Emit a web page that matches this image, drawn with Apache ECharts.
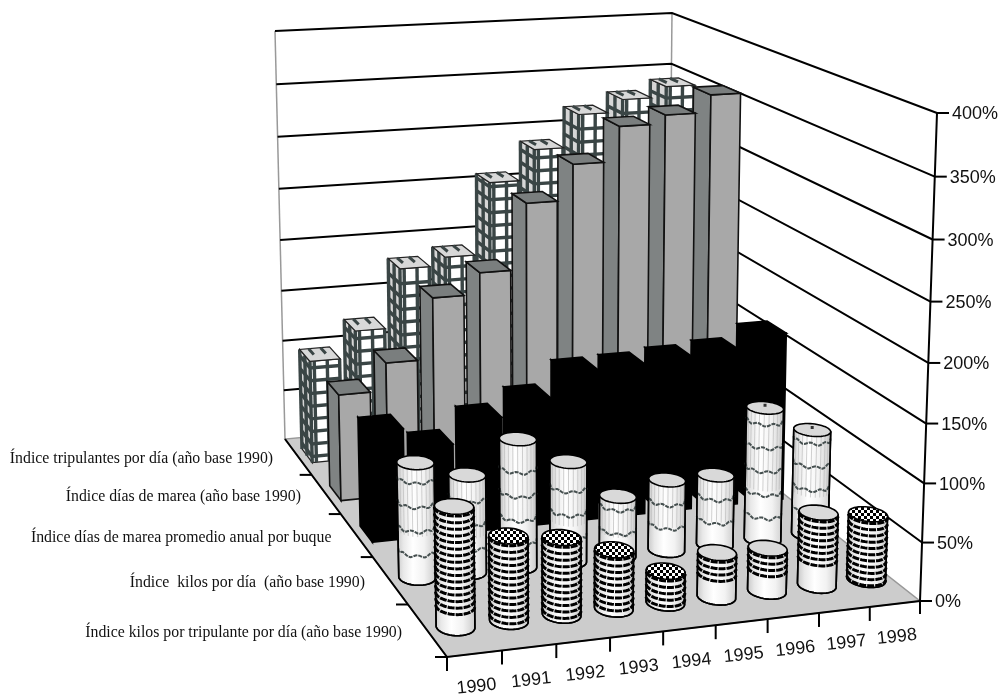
<!DOCTYPE html>
<html>
<head>
<meta charset="utf-8">
<style>html,body{margin:0;padding:0;background:#fff}#chart{width:1000px;height:695px}</style>
<script src="https://cdn.jsdelivr.net/npm/echarts@6/dist/echarts.min.js"></script>
</head>
<body>
<div id="chart"></div>
<script>
// Fishing-fleet indices, 1990 = 100%
const years = ['1990','1991','1992','1993','1994','1995','1996','1997','1998'];
const percentTicks = [0,50,100,150,200,250,300,350,400];
const rowNames = [
  'Índice kilos por tripulante por día (año base 1990)',
  'Índice  kilos por día  (año base 1990)',
  'Índice días de marea promedio anual por buque',
  'Índice días de marea (año base 1990)',
  'Índice tripulantes por día (año base 1990)'
];
const kilosPorTripulante = [100,71,65,50,27,38,37,63,57];
const kilosPorDia        = [100,85,112,88,53,63,63,119,95];
const mareaPorBuque      = [100,82,102,116,137,138,141,144,156];
const diasDeMarea        = [100,126,183,203,264,297,329,337,353];
const tripulantesPorDia  = [100,126,183,191,260,289,320,332,342];

// Surface treatment of the individual cylinders
const checkerTop = [0,1,1,1,1,0,0,0,1];
const bandCover  = [0.88,1,1,1,1,0.6,0.55,0.7,1];
const topDot     = [0,0,0,0,0,0,0,1,1];

// Perspective of the 3D box: floor and ceiling quads (front-left, front-right, back-right, back-left)
const floorQuad = [[447,657],[920,601],[668,403],[285,439]];
const ceilQuad  = [[440,143],[937,113],[672,13],[275,31]];
const PCT_MAX = 400;

function homography(q){
  const [x0,y0]=q[0],[x1,y1]=q[1],[x2,y2]=q[2],[x3,y3]=q[3];
  const dx1=x1-x2,dx2=x3-x2,sx=x0-x1+x2-x3,dy1=y1-y2,dy2=y3-y2,sy=y0-y1+y2-y3;
  const den=dx1*dy2-dx2*dy1;
  const g=(sx*dy2-dx2*sy)/den,h=(dx1*sy-sx*dy1)/den;
  const a=x1-x0+g*x1,b=x3-x0+h*x3,d=y1-y0+g*y1,e=y3-y0+h*y3;
  return (s,t)=>{const w=g*s+h*t+1;return [(a*s+b*t+x0)/w,(d*s+e*t+y0)/w];};
}
const floorH=homography(floorQuad), ceilH=homography(ceilQuad);

// Year position u (0..9), row position v (0..5), value in percent -> plane of the hidden axes
function project(u,v,p){
  const f=floorH(u/years.length,v/rowNames.length), c=ceilH(u/years.length,v/rowNames.length);
  const w=p/PCT_MAX, t=w/(1+0.05*(1-w));
  return [f[0]+(c[0]-f[0])*t, f[1]+(c[1]-f[1])*t];
}

const lattice='#3a4545';
function checkerImage(){
  const c=document.createElement('canvas');c.width=6;c.height=6;
  const g=c.getContext('2d');g.fillStyle='#fff';g.fillRect(0,0,6,6);
  g.fillStyle='#000';g.fillRect(0,0,3,3);g.fillRect(3,3,3,3);
  return c;
}
const checker={image:checkerImage(),repeat:'repeat'};

function toView(api,pts){return pts.map(p=>api.coord(p));}
function poly(api,pts,style){return {type:'polygon',shape:{points:toView(api,pts)},style};}
function line(api,pts,style){return {type:'polyline',shape:{points:toView(api,pts)},style:Object.assign({fill:null},style)};}
function label(api,pos,text,font,align,rot){
  const c=api.coord(pos);
  return {type:'text',x:c[0],y:c[1],rotation:rot||0,
    style:{text,x:0,y:0,font,fill:'#111',textAlign:align,textVerticalAlign:'middle'}};
}

// Walls, floor, axes, ticks and their labels
function renderFrame(params,api){
  const n=years.length,m=rowNames.length,ch=[];
  const off=(p,dx,dy)=>[p[0]+dx,p[1]+dy];
  ch.push(poly(api,[project(0,0,0),project(n,0,0),project(n,m,0),project(0,m,0)],{fill:'#cccccc',stroke:'#999',lineWidth:1.5}));
  ch.push(line(api,[project(0,m,0),project(0,m,PCT_MAX)],{stroke:'#999',lineWidth:1.5}));
  ch.push(line(api,[project(n,m,0),project(n,m,PCT_MAX)],{stroke:'#999',lineWidth:1.5}));
  percentTicks.forEach(p=>{
    if(p>0){
      ch.push(line(api,[project(0,m,p),project(n,m,p),project(n,0,p)],{stroke:'#000',lineWidth:2}));
    }
    const e=project(n,0,p);
    ch.push(line(api,[e,off(e,12,0)],{stroke:'#000',lineWidth:2}));
    ch.push(label(api,off(e,15,1.5),p+'%','18px "Liberation Sans"','left'));
  });
  ch.push(line(api,[off(project(n,0,0),0,13),project(n,0,0),project(n,0,PCT_MAX)],{stroke:'#000',lineWidth:2}));
  ch.push(line(api,[project(0,m,0),project(0,0,0),project(n,0,0)],{stroke:'#000',lineWidth:2}));
  years.forEach((y,i)=>{
    const b=project(i,0,0);
    ch.push(line(api,[b,off(b,0,14)],{stroke:'#000',lineWidth:2}));
    const c=project(i+0.5,0,0);
    ch.push(label(api,off(c,2,33),y,'18px "Liberation Sans"','center',0.11));
  });
  for(let k=0;k<m;k++){
    const b=project(0,k,0);
    ch.push(line(api,[b,off(b,-12,0)],{stroke:'#000',lineWidth:2}));
    const c=project(0,k+0.5,0);
    ch.push(label(api,off(c,-25,2.5),rowNames[k],'15.8px "Liberation Serif"','right'));
  }
  return {type:'group',children:ch};
}

const CU=0.53,HU=0.33,HV=0.19;
function box(api,i,row,p){
  const u0=i+CU-HU,u1=i+CU+HU,v0=row+.5-HV,v1=row+.5+HV;
  return {
    side:[[u0,v1,0],[u0,v0,0],[u0,v0,p],[u0,v1,p]].map(q=>project(...q)),
    front:[[u0,v0,0],[u1,v0,0],[u1,v0,p],[u0,v0,p]].map(q=>project(...q)),
    top:[[u0,v0,p],[u1,v0,p],[u1,v1,p],[u0,v1,p]].map(q=>project(...q)),
    u0,u1,v0,v1
  };
}
function renderSolid(row,faces){
  return (params,api)=>{
    const i=api.value(0),p=api.value(1),b=box(api,i,row,p);
    return {type:'group',children:[
      poly(api,b.side,{fill:faces.side,stroke:faces.edge,lineWidth:1.6}),
      poly(api,b.front,{fill:faces.front,stroke:faces.edge,lineWidth:1.6}),
      poly(api,b.top,{fill:faces.top,stroke:faces.edge,lineWidth:1.6})
    ]};
  };
}
function renderLattice(row){
  return (params,api)=>{
    const i=api.value(0),p=api.value(1),b=box(api,i,row,p),ch=[];
    const s={stroke:lattice,lineWidth:3.4};
    ch.push(poly(api,b.side,{fill:'#d6d6d6',stroke:'#222',lineWidth:1.2}));
    ch.push(poly(api,b.front,{fill:'#fff',stroke:'#222',lineWidth:1.2}));
    for(let h=6;h<p-3;h+=12.5){
      ch.push(line(api,[project(b.u0,b.v1,h),project(b.u0,b.v0,h),project(b.u1,b.v0,h)],s));
    }
    [0.14,0.57,0.98].forEach(f=>{
      const u=b.u0+(b.u1-b.u0)*f;
      ch.push(line(api,[project(u,b.v0,0),project(u,b.v0,p)],s));
    });
    ch.push(line(api,[project(b.u0,(b.v0+b.v1)/2,0),project(b.u0,(b.v0+b.v1)/2,p)],s));
    ch.push(line(api,[project(b.u0,b.v1,0),project(b.u0,b.v1,p)],s));
    ch.push(line(api,[project(b.u0,b.v0,0),project(b.u0,b.v0,p)],s));
    ch.push(poly(api,b.top,{fill:'#d8d8d8',stroke:'#222',lineWidth:1.2}));
    [0.3,0.7].forEach(f=>{
      const u=b.u0+(b.u1-b.u0)*f;
      ch.push(line(api,[project(u,b.v1,p),project(u,(b.v0+b.v1)/2,p)],{stroke:lattice,lineWidth:3}));
    });
    return {type:'group',children:ch};
  };
}

// Cylinder: projected rings at floor and top joined along their outer extremes
const RU=0.34,RV=0.165,RING=48;
const bodyShade={type:'linear',x:0,y:0,x2:1,y2:0,colorStops:[
  {offset:0,color:'#c4c4c4'},{offset:0.18,color:'#e8e8e8'},{offset:0.42,color:'#ffffff'},
  {offset:0.7,color:'#f2f2f2'},{offset:1,color:'#c8c8c8'}]};
function ring(i,row,p){
  const r=[];
  for(let k=0;k<RING;k++){
    const a=k/RING*2*Math.PI;
    r.push(project(i+CU+RU*Math.cos(a),row+.5+RV*Math.sin(a),p));
  }
  return r;
}
function frontArc(i,row,p){
  const r=ring(i,row,p);
  let lo=0,hi=0;
  r.forEach((q,k)=>{if(q[0]<r[lo][0])lo=k;if(q[0]>r[hi][0])hi=k;});
  const arc=[];
  for(let k=lo;;k=(k+1)%RING){arc.push(r[k]);if(k===hi)break;}
  return arc;
}
function cylinder(api,i,row,p,topFill,decorate){
  const bottom=frontArc(i,row,0),upper=frontArc(i,row,p),ch=[];
  const outline=[upper[0]].concat(bottom,[upper[upper.length-1]]);
  ch.push(poly(api,outline,{fill:bodyShade,stroke:'#000',lineWidth:1.6}));
  decorate(ch,upper,bottom);
  ch.push(line(api,outline,{stroke:'#000',lineWidth:1.6}));
  ch.push(poly(api,ring(i,row,p),{fill:topFill,stroke:'#000',lineWidth:1.6}));
  return {type:'group',children:ch};
}
function renderWaved(row){
  return (params,api)=>{
    const i=api.value(0),p=api.value(1);
    const g=cylinder(api,i,row,p,'#d9d9d9',(ch,upper)=>{
      const tone={stroke:'#bcbcbc',lineWidth:1,opacity:0.7};
      for(let k=2;k<upper.length-1;k+=2){
        const t=upper[k],f=frontArc(i,row,p*0.42)[k]||t;
        ch.push(line(api,[t,f],tone));
      }
      for(let h=25;h<p-3;h+=21){
        const arc=frontArc(i,row,h).map((q,k)=>[q[0],q[1]+1.4*Math.sin(k*0.95+h)]);
        ch.push(line(api,arc,{stroke:'#465050',lineWidth:2,lineDash:[4,1]}));
      }
    });
    if(topDot[i]){
      const c=project(i+CU,row+.5,p);
      g.children.push(poly(api,[[c[0]-1.5,c[1]-4],[c[0]+1.5,c[1]-4],[c[0]+1.5,c[1]-1],[c[0]-1.5,c[1]-1]],{fill:'#333'}));
    }
    return g;
  };
}
function renderBanded(row){
  return (params,api)=>{
    const i=api.value(0),p=api.value(1);
    return cylinder(api,i,row,p,checkerTop[i]?checker:'#d9d9d9',(ch)=>{
      const stop=p*(1-bandCover[i]);
      for(let h=p-1.5;h>stop+1;h-=5.4){
        const arc=frontArc(i,row,h);
        ch.push(line(api,arc,{stroke:'#000',lineWidth:3,lineDash:[7,1]}));
      }
    });
  };
}

// Items run right to left so that nearer columns paint over farther ones
const rowData=v=>v.map((x,i)=>[i,x]).reverse();
const rowSeries=(renderItem,values)=>({type:'custom',coordinateSystem:'cartesian2d',renderItem,data:rowData(values),silent:true,clip:false});

const chart=echarts.init(document.getElementById('chart'),null,{renderer:'canvas'});
chart.setOption({
  animation:false,
  backgroundColor:'#ffffff',
  grid:{left:0,right:0,top:0,bottom:0},
  xAxis:{type:'value',min:0,max:1000,show:false},
  yAxis:{type:'value',min:0,max:695,inverse:true,show:false},
  series:[
    {type:'custom',coordinateSystem:'cartesian2d',renderItem:renderFrame,data:[[0,0]],silent:true,clip:false},
    rowSeries(renderLattice(4),tripulantesPorDia),
    rowSeries(renderSolid(3,{side:'#7f8383',front:'#a8a8a8',top:'#7a7e7e',edge:'#111'}),diasDeMarea),
    rowSeries(renderSolid(2,{side:'#000',front:'#000',top:'#000',edge:'#000'}),mareaPorBuque),
    rowSeries(renderWaved(1),kilosPorDia),
    rowSeries(renderBanded(0),kilosPorTripulante)
  ]
});
</script>
</body>
</html>
